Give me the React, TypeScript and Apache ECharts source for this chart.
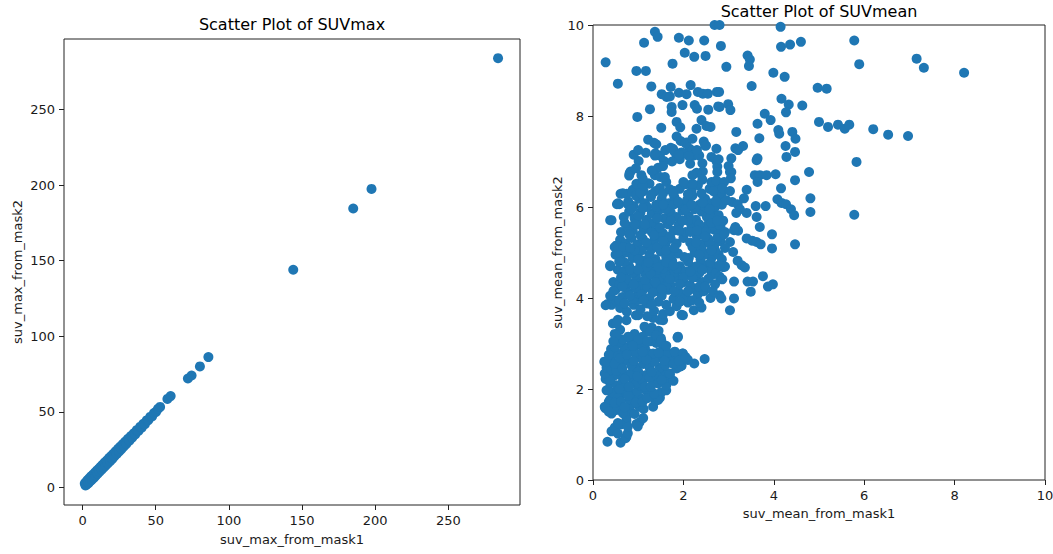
import React, { useEffect, useRef } from "react";
import * as echarts from "echarts";

// ---------- Left panel: SUVmax ----------
const maxTicks = [0, 50, 100, 150, 200, 250];
const suvMaxMask1 = [
  1.5, 2.0, 2.5, 3.0, 3.4, 4.0, 4.6, 5.2, 5.8, 6.5, 7.1, 7.8, 8.4, 9.0, 9.7, 10.3, 11.0, 11.6, 12.3, 13.0,
  13.6, 14.3, 15.0, 15.8, 16.5, 17.2, 18.0, 18.8, 19.5, 20.3, 21.0, 21.8, 22.6, 23.4, 24.2, 25.0, 25.8, 26.6,
  27.5, 28.3, 29.2, 30.0, 31.0, 32.0, 33.0, 34.0, 35.0, 36.0, 37.0, 38.2, 39.3, 40.4, 41.5, 42.6, 43.8, 45.0,
  46.2, 47.5, 48.8, 50.2, 51.5, 53.0, 58.0, 60.2, 72.0, 74.5, 80.2, 86.0, 144.0, 185.0, 197.5, 284.0,
];
const suvMaxMask2 = [
  2.6, 1.2, 3.6, 2.0, 4.8, 2.7, 6.0, 4.0, 7.3, 5.1, 8.4, 6.4, 9.7, 7.7, 11.0, 9.0, 12.2, 10.3, 13.6, 11.7,
  14.9, 13.0, 16.3, 14.4, 17.7, 15.8, 19.3, 17.3, 20.7, 18.8, 22.2, 20.5, 23.8, 22.1, 25.4, 23.7, 27.0, 25.3,
  28.6, 27.1, 30.3, 28.8, 32.1, 30.8, 33.9, 32.9, 35.8, 35.0, 37.8, 37.3, 40.0, 39.4, 42.1, 41.8, 44.3, 44.5,
  46.6, 46.9, 49.2, 49.9, 51.9, 53.2, 58.5, 60.4, 72.0, 74.0, 80.0, 86.2, 144.0, 184.5, 197.5, 284.0,
];

// ---------- Right panel: SUVmean ([mask1, mask2]) ----------
const meanTicks = [0, 2, 4, 6, 8, 10];

const meanLowerCluster = [
  [0.32, 0.84], [0.61, 0.82], [0.72, 0.92], [0.74, 0.95], [0.41, 1.07], [0.48, 1.15], [0.55, 1.02], [0.77, 1.03],
  [0.74, 1.30], [0.96, 1.23], [1.03, 1.27], [0.99, 1.18], [0.62, 1.22], [0.55, 1.25], [0.77, 1.17], [1.11, 1.36],
  [0.27, 1.58], [0.41, 1.65], [0.59, 1.61], [0.52, 1.54], [0.81, 1.54], [0.74, 1.38], [0.92, 1.45], [1.03, 1.61],
  [1.33, 1.61], [0.66, 1.47], [0.86, 1.66], [1.12, 1.56], [0.35, 1.72], [0.41, 1.46], [0.26, 1.61],
  [0.38, 1.77], [0.30, 1.97], [0.45, 1.92], [0.63, 1.89], [0.81, 1.77], [0.89, 1.89], [1.03, 1.81], [1.18, 1.96],
  [1.48, 1.81], [1.51, 1.93], [1.25, 1.86], [0.72, 1.98], [0.55, 1.80], [1.38, 1.74], [0.98, 1.95], [1.62, 1.97],
  [1.44, 1.76], [0.33, 1.98],
  [0.38, 2.14], [0.52, 2.08], [0.66, 2.16], [0.89, 2.20], [1.03, 2.08], [0.96, 2.12], [1.33, 2.16], [1.44, 2.12],
  [1.62, 2.08], [1.62, 2.24], [1.70, 2.31], [1.18, 2.31], [0.59, 2.31], [0.77, 2.31], [1.55, 2.39], [0.28, 2.22],
  [1.10, 2.18], [1.25, 2.25], [0.45, 2.28], [1.78, 2.18], [0.85, 2.35], [0.37, 2.20], [0.26, 2.34], [1.70, 2.34],
  [0.30, 2.47], [0.41, 2.43], [0.41, 2.62], [0.59, 2.55], [0.74, 2.62], [0.96, 2.47], [1.11, 2.55], [1.25, 2.47],
  [1.48, 2.47], [1.48, 2.70], [1.70, 2.62], [1.96, 2.51], [2.24, 2.56], [2.47, 2.66], [1.03, 2.70], [0.63, 2.78],
  [0.52, 2.40], [0.85, 2.52], [1.36, 2.60], [1.60, 2.52], [1.85, 2.45], [0.25, 2.60], [1.92, 2.49], [1.74, 2.64],
  [2.10, 2.64], [0.30, 2.60],
  [0.52, 2.78], [0.81, 2.86], [1.25, 2.78], [1.33, 2.78], [1.81, 2.78], [1.98, 2.78], [1.03, 2.97], [0.52, 2.97],
  [1.40, 3.01], [0.70, 2.92], [0.92, 2.80], [1.15, 2.90], [1.55, 2.88], [1.65, 2.80], [0.40, 2.88], [1.28, 3.05],
  [1.81, 2.82], [1.99, 2.78], [0.48, 2.93], [0.59, 3.04],
  [0.66, 3.09], [0.48, 3.21], [0.92, 3.21], [1.37, 3.21], [1.18, 3.32], [1.87, 3.13], [0.85, 3.05], [1.50, 3.12],
  [1.10, 3.15], [0.60, 3.30], [1.30, 3.35], [1.45, 3.28], [1.14, 3.37], [0.92, 3.18], [0.52, 3.18], [1.88, 3.15],
  [1.26, 3.26], [1.40, 3.18], [1.51, 3.07],
  [0.44, 3.44], [0.55, 3.52], [1.33, 3.56], [1.48, 3.52], [0.95, 3.62], [1.20, 3.60], [0.52, 3.44], [0.74, 3.51],
  [1.00, 3.62], [1.55, 3.51], [1.99, 3.62],
];

const meanLowerFill = [
  [0.35, 1.50], [0.48, 1.70], [0.62, 1.72], [0.70, 1.60], [0.78, 1.85], [0.95, 1.70], [1.10, 1.72], [1.20, 1.80],
  [1.35, 1.90], [0.58, 2.00], [0.70, 2.22], [0.80, 2.05], [1.15, 2.05], [1.28, 2.05], [1.40, 2.30], [1.52, 2.20],
  [0.48, 2.55], [0.65, 2.45], [0.90, 2.62], [1.00, 2.38], [1.18, 2.65], [1.30, 2.38], [1.58, 2.62], [1.78, 2.55],
  [0.60, 2.68], [0.75, 2.75], [1.10, 2.82], [1.45, 2.80], [0.35, 2.75], [0.45, 3.05], [0.78, 3.15], [1.00, 3.08],
  [1.20, 3.05], [1.62, 2.95], [0.88, 2.95], [0.98, 2.28], [1.90, 2.62], [2.05, 2.70],
];

const meanCoreCluster = [
  [0.33, 3.87], [0.41, 3.85], [0.52, 3.94], [0.60, 3.78], [0.75, 3.70], [0.90, 3.85], [1.05, 3.75], [1.20, 3.88],
  [1.35, 3.72], [1.55, 3.65], [1.70, 3.71], [1.85, 3.82], [1.96, 3.63], [2.10, 3.90], [2.23, 3.73], [2.40, 3.79],
  [0.28, 3.84], [1.45, 3.92], [0.98, 3.95],
  [0.38, 4.05], [0.50, 4.18], [0.65, 4.02], [0.78, 4.12], [0.88, 3.98], [1.00, 4.10], [1.12, 4.20], [1.25, 4.00],
  [1.38, 4.15], [1.52, 4.05], [1.66, 4.18], [1.78, 3.98], [1.90, 4.12], [2.05, 4.02], [2.18, 4.20], [2.32, 4.08],
  [2.45, 4.15], [2.60, 4.00], [0.72, 4.22], [1.45, 4.25],
  [0.45, 4.35], [0.58, 4.30], [0.70, 4.45], [0.83, 4.32], [0.95, 4.48], [1.08, 4.35], [1.18, 4.42], [1.30, 4.30],
  [1.42, 4.48], [1.58, 4.38], [1.72, 4.28], [1.84, 4.45], [2.00, 4.35], [2.15, 4.28], [2.28, 4.46], [2.42, 4.35],
  [2.55, 4.42], [2.70, 4.30], [2.62, 4.50], [1.02, 4.25],
  [0.55, 4.62], [0.68, 4.58], [0.80, 4.70], [0.92, 4.60], [1.05, 4.72], [1.15, 4.55], [1.28, 4.66], [1.40, 4.58],
  [1.52, 4.74], [1.65, 4.62], [1.78, 4.55], [1.92, 4.70], [2.05, 4.58], [2.20, 4.68], [2.35, 4.55], [2.48, 4.72],
  [2.60, 4.62], [2.75, 4.70], [2.88, 4.68], [0.38, 4.70],
  [0.50, 4.95], [0.62, 4.85], [0.75, 5.00], [0.88, 4.88], [1.00, 4.98], [1.12, 4.82], [1.25, 4.95], [1.38, 4.85],
  [1.50, 5.02], [1.62, 4.90], [1.75, 4.82], [1.88, 4.98], [2.12, 4.88], [2.25, 5.00], [2.38, 4.85], [2.50, 4.98],
  [2.62, 4.88], [2.78, 4.95], [2.70, 5.05],
  [0.52, 5.15], [0.60, 5.28], [0.72, 5.20], [0.85, 5.32], [0.98, 5.18], [1.10, 5.30], [1.22, 5.15], [1.35, 5.25],
  [1.48, 5.35], [1.60, 5.18], [1.72, 5.30], [1.85, 5.20], [2.00, 5.32], [2.15, 5.22], [2.30, 5.35], [2.42, 5.18],
  [2.55, 5.30], [2.68, 5.15], [2.82, 5.25],
  [0.62, 5.45], [0.75, 5.58], [0.88, 5.48], [1.00, 5.62], [1.12, 5.50], [1.25, 5.60], [1.38, 5.45], [1.65, 5.62],
  [1.78, 5.48], [1.90, 5.60], [2.05, 5.45], [2.18, 5.58], [2.42, 5.48], [2.55, 5.62], [2.68, 5.50], [2.82, 5.58],
  [2.92, 5.45],
  [0.68, 5.78], [0.80, 5.90], [0.92, 5.75], [1.05, 5.88], [1.18, 5.72], [1.30, 5.85], [1.45, 5.92], [1.58, 5.75],
  [1.72, 5.88], [1.85, 5.78], [1.98, 5.92], [2.12, 5.80], [2.28, 5.72], [2.40, 5.90], [2.52, 5.78], [2.65, 5.92],
  [2.78, 5.82], [2.88, 5.70],
  [0.78, 6.12], [0.90, 6.02], [1.02, 6.18], [1.15, 6.08], [1.28, 6.22], [1.40, 6.05], [1.52, 6.18], [1.68, 6.08],
  [1.80, 6.22], [1.95, 6.05], [2.08, 6.15], [2.20, 6.25], [2.35, 6.05], [2.48, 6.18], [2.62, 6.08], [2.75, 6.20],
  [0.88, 6.38], [1.00, 6.48], [1.12, 6.35], [1.22, 6.52], [1.48, 6.42], [1.62, 6.55], [1.92, 6.40], [2.05, 6.50],
  [2.18, 6.35], [2.32, 6.48], [2.58, 6.40], [2.85, 6.30],
];

const meanCoreFill = [
  [0.82, 4.05], [0.95, 4.22], [1.08, 4.08], [1.20, 4.25], [1.32, 4.12], [1.15, 4.40], [1.28, 4.52], [0.88, 4.55],
  [1.45, 4.42], [1.60, 4.52], [0.75, 4.40], [1.00, 4.85], [1.18, 4.68], [1.35, 4.78], [1.55, 4.65], [0.70, 4.78],
  [1.08, 5.05], [1.30, 5.08], [0.92, 5.05], [1.42, 5.12], [0.80, 5.40], [1.05, 5.38], [1.30, 5.45], [1.55, 5.42],
  [0.65, 5.05], [1.95, 4.62], [2.10, 4.80], [2.30, 4.70], [2.45, 4.95], [2.60, 4.78], [2.20, 5.12],
  [2.40, 5.10], [2.58, 5.20], [2.10, 5.70], [2.35, 5.62], [2.60, 5.78], [2.25, 5.95], [2.48, 6.00], [2.70, 6.00],
  [1.62, 5.95], [1.78, 6.05], [1.90, 5.48], [1.70, 5.35], [1.85, 4.65], [1.70, 4.95], [2.00, 4.45], [2.20, 4.45],
  [2.35, 4.25], [1.62, 4.25], [1.80, 4.15], [2.50, 5.45], [2.78, 5.40], [2.85, 6.05], [1.00, 5.80], [1.20, 6.00],
  [1.35, 5.65], [1.48, 5.55], [0.95, 6.25], [1.38, 6.35], [0.58, 4.80], [0.55, 5.00], [0.65, 4.25], [0.45, 4.15],
  [0.61, 6.29], [0.75, 6.29], [0.58, 6.06], [0.53, 6.06], [0.77, 6.06], [0.38, 5.71], [0.52, 5.15], [0.38, 4.72],
  [0.48, 5.12], [0.41, 5.71], [0.55, 6.08], [0.66, 6.30], [0.81, 6.74],
  [0.58, 3.95], [0.70, 3.88], [1.12, 3.95], [1.30, 3.85], [1.62, 3.85], [1.92, 3.92], [2.20, 3.95], [2.35, 3.90],
  [0.90, 4.30], [1.38, 4.35], [1.52, 4.20], [1.70, 4.42], [1.92, 4.30], [2.10, 4.15], [2.48, 4.25], [2.65, 4.15],
  [0.62, 4.45], [0.82, 4.62], [1.00, 4.62], [1.22, 4.78], [1.45, 4.68], [1.62, 4.78], [1.78, 4.72], [2.02, 4.90],
  [2.15, 4.58], [2.42, 4.62], [2.72, 4.55], [2.85, 4.85], [0.68, 5.12], [0.82, 5.10], [1.18, 5.22], [1.35, 5.38],
  [1.55, 5.25], [1.62, 5.05], [1.80, 5.10], [2.28, 5.22], [2.35, 4.95], [2.48, 5.35], [2.62, 5.05],
  [2.75, 5.32], [0.70, 5.65], [0.92, 5.62], [1.15, 5.62], [1.42, 5.75], [1.72, 5.70], [1.98, 5.70], [2.15, 5.45],
  [2.30, 5.48], [2.62, 5.65], [2.75, 5.70], [0.85, 5.95], [1.10, 5.98], [1.40, 6.00], [1.55, 6.05], [1.88, 6.12],
  [2.05, 5.95], [2.18, 6.05], [2.42, 6.10], [2.58, 5.95], [2.72, 6.12], [1.05, 6.30], [1.30, 6.28], [1.55, 6.30],
  [1.80, 6.35], [2.10, 6.28], [2.40, 6.30], [2.72, 6.45],
];

const meanUpperCluster = [
  [1.17, 7.19], [1.01, 7.01], [0.83, 6.78], [0.80, 6.69], [1.48, 7.13], [1.37, 7.13], [1.57, 7.01], [1.44, 6.86],
  [1.25, 6.51], [1.37, 6.70], [1.49, 6.66], [1.59, 6.66], [1.70, 6.39], [1.77, 6.31], [1.07, 6.70], [0.96, 6.51],
  [1.10, 6.47], [1.77, 7.28], [1.85, 7.13], [1.96, 7.20], [2.07, 7.42], [2.14, 7.28], [2.22, 7.13], [2.35, 7.13],
  [2.45, 7.44], [2.48, 7.35], [2.73, 7.28], [2.73, 7.01], [2.75, 6.89], [2.42, 6.96], [2.43, 6.78], [2.42, 6.60],
  [2.62, 6.55], [2.73, 6.58], [2.66, 6.35], [2.29, 6.75], [2.20, 6.51], [2.00, 6.55],
  [1.10, 6.62], [1.30, 6.80], [1.55, 6.90], [1.75, 7.00], [1.92, 7.05], [2.00, 7.18], [2.15, 6.95], [2.30, 7.25],
  [2.20, 6.70], [0.95, 6.85],
  [1.22, 7.48], [1.35, 7.41], [1.40, 7.38], [1.94, 7.45], [1.85, 7.55], [2.05, 7.40], [2.20, 7.50], [2.50, 7.35],
  [0.90, 7.15], [1.00, 7.25], [1.38, 7.18], [1.60, 7.25], [1.72, 7.30], [1.80, 7.22], [1.90, 7.15], [2.12, 7.12],
  [2.62, 7.10], [2.78, 7.05],
  [1.51, 7.74], [1.85, 7.87], [1.93, 7.75], [2.29, 7.72], [2.40, 7.91], [2.51, 7.78], [2.60, 7.76], [1.26, 8.15],
  [0.98, 7.98], [1.74, 8.20], [1.74, 8.09], [1.98, 8.24], [2.25, 8.24], [2.30, 8.16], [2.55, 8.14], [2.77, 8.21],
  [1.29, 8.65], [1.52, 8.48], [1.63, 8.42], [1.70, 8.43], [1.72, 8.64], [1.90, 8.51], [2.07, 8.48], [2.16, 8.68],
  [2.32, 8.53], [2.43, 8.49], [2.54, 8.49], [2.74, 8.53], [2.79, 8.53], [2.80, 8.20], [2.99, 8.26], [3.04, 8.13],
  [0.28, 9.18], [0.55, 8.71], [0.96, 8.99], [1.17, 8.99], [1.13, 9.61], [1.37, 9.85], [1.43, 9.74], [1.76, 9.15],
  [1.90, 9.72], [2.12, 9.66], [2.46, 9.66], [2.03, 9.39], [2.24, 9.30], [2.49, 9.32], [2.83, 9.54], [2.69, 10.0],
  [2.80, 10.0], [2.95, 9.08],
];

const meanRightSpread = [
  [3.42, 9.33], [3.47, 9.24], [3.45, 9.10], [3.51, 8.66], [3.99, 8.95], [4.24, 8.86], [4.15, 9.96], [4.16, 9.52],
  [4.36, 9.57], [4.60, 9.63], [4.97, 8.62], [5.17, 8.60], [4.17, 8.38], [4.33, 8.25], [4.27, 8.08], [4.63, 8.23],
  [3.80, 8.05], [3.93, 7.91], [3.64, 7.83], [3.17, 7.65], [3.68, 7.51], [4.10, 7.69], [4.12, 7.61], [4.41, 7.65],
  [4.48, 7.50], [4.26, 7.34], [4.28, 7.10], [4.47, 7.21], [3.06, 7.07], [3.15, 7.29], [3.21, 7.25], [3.32, 7.34],
  [3.03, 6.77], [2.75, 6.77], [3.62, 7.03], [3.64, 7.07], [3.58, 6.70], [3.69, 6.70], [3.84, 6.70], [4.04, 6.72],
  [4.78, 6.77], [4.47, 6.59], [4.16, 6.41], [3.64, 6.55], [3.40, 6.38], [3.06, 6.77], [3.05, 6.63], [2.90, 6.55],
  [2.86, 6.41], [3.03, 6.35], [3.08, 6.11], [3.20, 6.06], [3.25, 5.95], [3.34, 6.19], [3.17, 5.87], [3.40, 5.87],
  [3.60, 6.02], [3.82, 6.02], [3.62, 5.78], [4.08, 6.17], [4.17, 6.09], [4.27, 6.06], [4.38, 5.95], [4.45, 5.82],
  [4.81, 6.19], [4.81, 5.89], [3.69, 5.56], [3.15, 5.56], [3.21, 5.48], [3.12, 5.49], [3.96, 5.40], [3.96, 5.09],
  [3.40, 5.31], [3.52, 5.26], [3.62, 5.23], [3.71, 5.18], [4.47, 5.18], [2.90, 5.40], [3.03, 5.23], [3.10, 5.01],
  [3.20, 4.82], [3.29, 4.72], [3.36, 4.67], [2.92, 4.69], [2.80, 4.72], [2.80, 4.47], [2.86, 4.41], [3.12, 4.36],
  [3.42, 4.36], [3.54, 4.36], [3.49, 4.14], [3.76, 4.48], [3.87, 4.25], [3.98, 4.30], [2.80, 4.06], [2.84, 3.99],
  [3.12, 3.99], [3.03, 3.73], [2.92, 5.10], [2.95, 6.15], [3.00, 6.90],
];

const meanOutliers = [
  [5.78, 9.66], [5.89, 9.14], [7.16, 9.26], [7.32, 9.06], [8.21, 8.95], [5.00, 7.87], [5.20, 7.76], [5.42, 7.81],
  [5.57, 7.72], [5.67, 7.81], [6.20, 7.71], [6.53, 7.59], [6.97, 7.56], [5.83, 6.99], [5.78, 5.83],
];

const FONT = "DejaVu Sans";
const INK = "#1a1a1a";
const DOT = "#1f77b4";

export default function App() {
  const ref = useRef<HTMLDivElement>(null);

  useEffect(() => {
    if (!ref.current) return;
    const chart = echarts.init(ref.current, undefined, { renderer: "svg" });

    const tickStyle = { show: true, inside: false, length: 5, lineStyle: { color: "#222", width: 1 } };
    const labelStyle = { color: INK, fontSize: 13, fontFamily: FONT };
    const nameStyle = { color: INK, fontSize: 13, fontFamily: FONT };
    const hiddenLine = { show: false, onZero: false };

    const maxData = suvMaxMask1.map((v, i) => [v, suvMaxMask2[i]]);
    const meanData = [
      ...meanLowerCluster,
      ...meanLowerFill,
      ...meanCoreCluster,
      ...meanCoreFill,
      ...meanUpperCluster,
      ...meanRightSpread,
      ...meanOutliers,
    ];

    chart.setOption({
      animation: false,
      backgroundColor: "#ffffff",
      grid: [
        { left: 64, top: 39, width: 456, height: 466, show: true, borderColor: "#222", borderWidth: 1, outerBoundsMode: "none" },
        { left: 593, top: 25, width: 452, height: 455, show: true, borderColor: "#222", borderWidth: 1, outerBoundsMode: "none" },
      ],
      xAxis: [
        {
          type: "value",
          gridIndex: 0,
          min: -12.7,
          max: 299,
          axisLine: hiddenLine,
          splitLine: { show: false },
          axisTick: { ...tickStyle, customValues: maxTicks },
          axisLabel: { ...labelStyle, margin: 9, customValues: maxTicks },
          name: "suv_max_from_mask1",
          nameLocation: "middle",
          nameGap: 28,
          nameTextStyle: nameStyle,
        },
        {
          type: "value",
          gridIndex: 1,
          min: 0,
          max: 10,
          axisLine: hiddenLine,
          splitLine: { show: false },
          axisTick: { ...tickStyle, customValues: meanTicks },
          axisLabel: { ...labelStyle, margin: 9, customValues: meanTicks },
          name: "suv_mean_from_mask1",
          nameLocation: "middle",
          nameGap: 27,
          nameTextStyle: nameStyle,
        },
      ],
      yAxis: [
        {
          type: "value",
          gridIndex: 0,
          min: -11.7,
          max: 296.7,
          axisLine: hiddenLine,
          splitLine: { show: false },
          axisTick: { ...tickStyle, customValues: maxTicks },
          axisLabel: { ...labelStyle, margin: 9, customValues: maxTicks },
          name: "suv_max_from_mask2",
          nameLocation: "middle",
          nameGap: 40,
          nameTextStyle: nameStyle,
        },
        {
          type: "value",
          gridIndex: 1,
          min: 0,
          max: 10,
          axisLine: hiddenLine,
          splitLine: { show: false },
          axisTick: { ...tickStyle, customValues: meanTicks },
          axisLabel: { ...labelStyle, margin: 9, customValues: meanTicks },
          name: "suv_mean_from_mask2",
          nameLocation: "middle",
          nameGap: 28,
          nameTextStyle: nameStyle,
        },
      ],
      series: [
        {
          type: "scatter",
          name: "SUVmax",
          xAxisIndex: 0,
          yAxisIndex: 0,
          symbolSize: 10,
          itemStyle: { color: DOT, opacity: 1 },
          data: maxData,
        },
        {
          type: "scatter",
          name: "SUVmean",
          xAxisIndex: 1,
          yAxisIndex: 1,
          symbolSize: 10,
          itemStyle: { color: DOT, opacity: 1 },
          data: meanData,
        },
      ],
      graphic: [
        {
          type: "text",
          x: 292,
          y: 24,
          style: { text: "Scatter Plot of SUVmax", font: `16px '${FONT}'`, fill: "#000", textAlign: "center", textVerticalAlign: "middle" },
        },
        {
          type: "text",
          x: 819,
          y: 11,
          style: { text: "Scatter Plot of SUVmean", font: `16px '${FONT}'`, fill: "#000", textAlign: "center", textVerticalAlign: "middle" },
        },
      ],
    });

    return () => chart.dispose();
  }, []);

  return <div ref={ref} style={{ position: "absolute", left: 0, top: 0, width: 1053, height: 554 }} />;
}
